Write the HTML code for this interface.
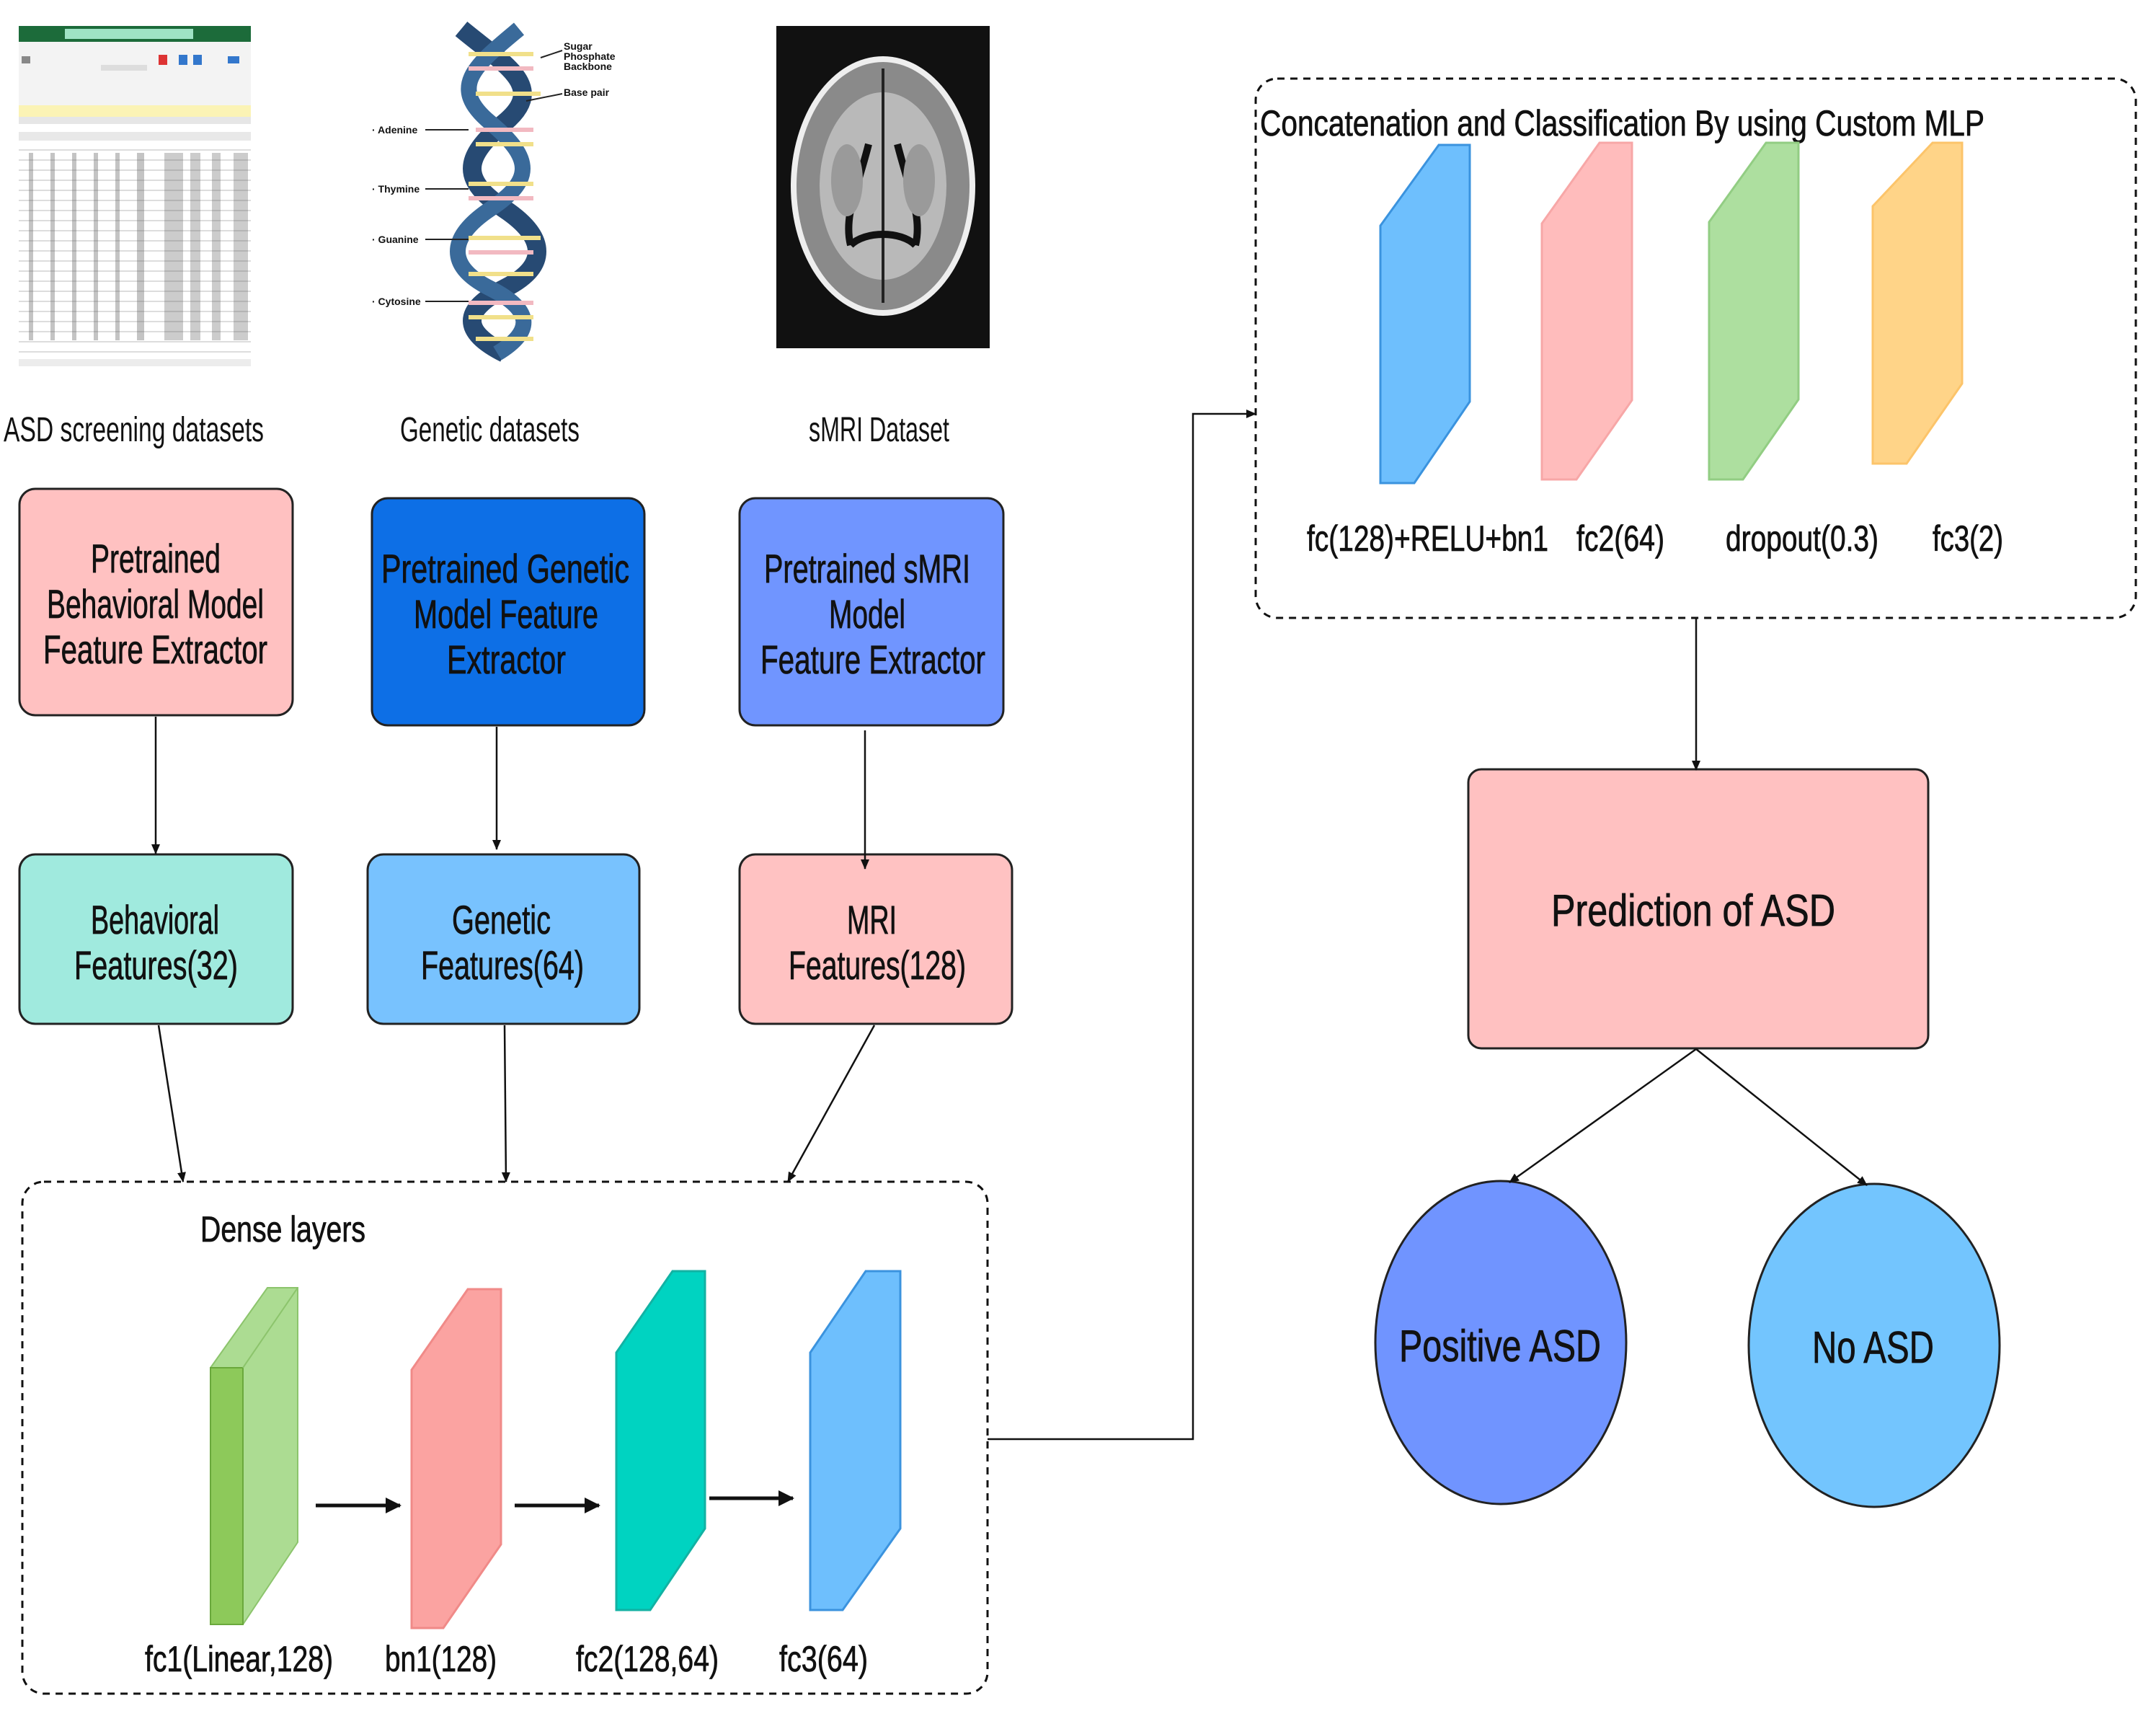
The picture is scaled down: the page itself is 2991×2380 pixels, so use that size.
<!DOCTYPE html>
<html><head><meta charset="utf-8"><style>
html,body{margin:0;padding:0;background:#fff;}
svg{display:block;}
text{font-family:"Liberation Sans Narrow","Liberation Sans",sans-serif;fill:#111;}
.b{stroke:#111;stroke-width:0.8px;}
</style></head><body>
<svg width="2991" height="2380" viewBox="0 0 2991 2380" xmlns="http://www.w3.org/2000/svg">
<defs>
<marker id="ah" markerWidth="14" markerHeight="14" refX="13" refY="7" orient="auto" markerUnits="userSpaceOnUse" viewBox="0 0 14 14"><path d="M0,1 L14,7 L0,13 z" fill="#111"/></marker>
<marker id="ah2" markerWidth="22" markerHeight="22" refX="20" refY="11" orient="auto" markerUnits="userSpaceOnUse" viewBox="0 0 22 22"><path d="M0,0 L22,11 L0,22 z" fill="#111"/></marker>
</defs>

<!-- Excel image -->
<g>
<rect x="26" y="36" width="322" height="472" fill="#fff"/>
<rect x="26" y="36" width="322" height="22" fill="#1c6b3a"/>
<rect x="90" y="40" width="178" height="14" fill="#9fe3c5"/>
<rect x="26" y="58" width="322" height="88" fill="#f3f3f3"/>
<rect x="30" y="78" width="12" height="10" fill="#888"/><rect x="220" y="76" width="12" height="14" fill="#d33"/>
<rect x="248" y="76" width="12" height="14" fill="#37c"/><rect x="268" y="76" width="12" height="14" fill="#37c"/>
<rect x="316" y="78" width="16" height="10" fill="#37c"/>
<rect x="140" y="90" width="64" height="8" fill="#ddd"/>
<rect x="26" y="146" width="322" height="16" fill="#fbf3b5"/>
<rect x="26" y="162" width="322" height="10" fill="#e6e6e6"/>
<rect x="26" y="183" width="322" height="12" fill="#e8e8e8"/>
<g stroke="#bbb" stroke-width="1">
<line x1="26" y1="208" x2="348" y2="208"/><line x1="26" y1="222" x2="348" y2="222"/><line x1="26" y1="236" x2="348" y2="236"/><line x1="26" y1="250" x2="348" y2="250"/><line x1="26" y1="264" x2="348" y2="264"/><line x1="26" y1="278" x2="348" y2="278"/><line x1="26" y1="292" x2="348" y2="292"/><line x1="26" y1="306" x2="348" y2="306"/><line x1="26" y1="320" x2="348" y2="320"/><line x1="26" y1="334" x2="348" y2="334"/><line x1="26" y1="348" x2="348" y2="348"/><line x1="26" y1="362" x2="348" y2="362"/><line x1="26" y1="376" x2="348" y2="376"/><line x1="26" y1="390" x2="348" y2="390"/><line x1="26" y1="404" x2="348" y2="404"/><line x1="26" y1="418" x2="348" y2="418"/><line x1="26" y1="432" x2="348" y2="432"/><line x1="26" y1="446" x2="348" y2="446"/><line x1="26" y1="460" x2="348" y2="460"/><line x1="26" y1="474" x2="348" y2="474"/><line x1="26" y1="488" x2="348" y2="488"/>
</g>
<g fill="#555">
<rect x="40" y="212" width="6" height="260" opacity="0.35"/><rect x="70" y="212" width="6" height="260" opacity="0.35"/><rect x="100" y="212" width="6" height="260" opacity="0.35"/><rect x="130" y="212" width="6" height="260" opacity="0.35"/><rect x="160" y="212" width="6" height="260" opacity="0.35"/><rect x="190" y="212" width="10" height="260" opacity="0.35"/><rect x="228" y="212" width="26" height="260" opacity="0.3"/><rect x="264" y="212" width="14" height="260" opacity="0.3"/><rect x="294" y="212" width="12" height="260" opacity="0.3"/><rect x="324" y="212" width="20" height="260" opacity="0.3"/>
</g>
<rect x="26" y="498" width="322" height="10" fill="#ececec"/>
</g>

<!-- DNA -->
<g fill="none">
<path d="M640,40 C700,90 760,120 700,170 C640,220 640,250 700,290 C760,330 760,370 700,400 C640,430 640,460 700,490" stroke="#274a73" stroke-width="26"/>
<path d="M720,40 C660,90 620,120 680,170 C740,220 740,250 680,290 C620,330 620,370 680,400 C740,430 740,460 690,490" stroke="#3a6a9a" stroke-width="22"/>
<g stroke="#f1e08a" stroke-width="6">
<line x1="650" y1="75" x2="740" y2="75"/><line x1="660" y1="130" x2="750" y2="130"/><line x1="660" y1="200" x2="740" y2="200"/><line x1="650" y1="255" x2="740" y2="255"/><line x1="650" y1="330" x2="750" y2="330"/><line x1="650" y1="380" x2="740" y2="380"/><line x1="650" y1="440" x2="740" y2="440"/><line x1="660" y1="470" x2="740" y2="470"/>
</g>
<g stroke="#f2b9c1" stroke-width="6">
<line x1="650" y1="95" x2="740" y2="95"/><line x1="660" y1="180" x2="740" y2="180"/><line x1="650" y1="275" x2="740" y2="275"/><line x1="650" y1="350" x2="740" y2="350"/><line x1="650" y1="420" x2="740" y2="420"/>
</g>
<g stroke="#222" stroke-width="2">
<line x1="590" y1="180" x2="650" y2="180"/><line x1="590" y1="262" x2="650" y2="262"/><line x1="590" y1="332" x2="650" y2="332"/><line x1="590" y1="418" x2="650" y2="418"/>
<line x1="750" y1="80" x2="780" y2="70"/><line x1="730" y1="140" x2="780" y2="130"/>
</g>
</g>
<g style="font-family:'Liberation Sans',sans-serif;font-weight:bold" font-size="14">
<text x="516" y="185">· Adenine</text><text x="516" y="267">· Thymine</text><text x="516" y="337">· Guanine</text><text x="516" y="423">· Cytosine</text>
<text x="782" y="69">Sugar</text><text x="782" y="83">Phosphate</text><text x="782" y="97">Backbone</text><text x="782" y="133">Base pair</text>
</g>

<!-- MRI -->
<rect x="1077" y="36" width="296" height="447" fill="#111"/>
<ellipse cx="1225" cy="258" rx="128" ry="180" fill="#eee"/>
<ellipse cx="1225" cy="258" rx="120" ry="172" fill="#8a8a8a"/>
<ellipse cx="1225" cy="258" rx="88" ry="130" fill="#b9b9b9"/>
<path d="M1225,95 L1225,420" stroke="#222" stroke-width="4"/>
<path d="M1205,200 C1190,260 1170,300 1180,340 M1245,200 C1260,260 1280,300 1270,340 M1180,340 C1200,320 1250,320 1270,340" stroke="#111" stroke-width="10" fill="none"/>
<ellipse cx="1175" cy="250" rx="22" ry="50" fill="#9a9a9a"/><ellipse cx="1275" cy="250" rx="22" ry="50" fill="#9a9a9a"/>

<!-- Section labels -->
<g font-size="48">
<text x="5" y="612" textLength="361" lengthAdjust="spacingAndGlyphs">ASD screening datasets</text>
<text x="555" y="612" textLength="249" lengthAdjust="spacingAndGlyphs">Genetic datasets</text>
<text x="1122" y="612" textLength="195" lengthAdjust="spacingAndGlyphs">sMRI Dataset</text>
</g>

<!-- Pretrained boxes -->
<rect x="27" y="678" width="379" height="314" rx="22" fill="#ffc1c1" stroke="#222" stroke-width="3"/>
<rect x="516" y="691" width="378" height="315" rx="22" fill="#0d6fe6" stroke="#222" stroke-width="3"/>
<rect x="1026" y="691" width="366" height="315" rx="22" fill="#7095ff" stroke="#222" stroke-width="3"/>
<g font-size="56" class="b">
<text x="126" y="794" textLength="180" lengthAdjust="spacingAndGlyphs">Pretrained</text>
<text x="65" y="857" textLength="301" lengthAdjust="spacingAndGlyphs">Behavioral Model</text>
<text x="60" y="920" textLength="311" lengthAdjust="spacingAndGlyphs">Feature Extractor</text>
<text x="529" y="808" textLength="344" lengthAdjust="spacingAndGlyphs">Pretrained  Genetic</text>
<text x="574" y="871" textLength="256" lengthAdjust="spacingAndGlyphs">Model Feature</text>
<text x="620" y="934" textLength="165" lengthAdjust="spacingAndGlyphs">Extractor</text>
<text x="1060" y="808" textLength="286" lengthAdjust="spacingAndGlyphs">Pretrained sMRI</text>
<text x="1150" y="871" textLength="106" lengthAdjust="spacingAndGlyphs">Model</text>
<text x="1055" y="934" textLength="312" lengthAdjust="spacingAndGlyphs">Feature Extractor</text>
</g>

<!-- Feature boxes -->
<rect x="27" y="1185" width="379" height="235" rx="22" fill="#a0eade" stroke="#222" stroke-width="3"/>
<rect x="510" y="1185" width="377" height="235" rx="22" fill="#78c2fe" stroke="#222" stroke-width="3"/>
<rect x="1026" y="1185" width="378" height="235" rx="22" fill="#ffc2c2" stroke="#222" stroke-width="3"/>
<g font-size="56" class="b">
<text x="126" y="1295" textLength="178" lengthAdjust="spacingAndGlyphs">Behavioral</text>
<text x="103" y="1358" textLength="227" lengthAdjust="spacingAndGlyphs">Features(32)</text>
<text x="627" y="1295" textLength="137" lengthAdjust="spacingAndGlyphs">Genetic</text>
<text x="584" y="1358" textLength="226" lengthAdjust="spacingAndGlyphs">Features(64)</text>
<text x="1175" y="1295" textLength="69" lengthAdjust="spacingAndGlyphs">MRI</text>
<text x="1094" y="1358" textLength="246" lengthAdjust="spacingAndGlyphs">Features(128)</text>
</g>

<!-- arrows pretrained -> features (drawn after boxes) -->
<g stroke="#111" stroke-width="2.5" fill="none">
<line x1="216" y1="994" x2="216" y2="1184" marker-end="url(#ah)"/>
<line x1="689" y1="1008" x2="689" y2="1178" marker-end="url(#ah)"/>
<line x1="1200" y1="1013" x2="1200" y2="1205" marker-end="url(#ah)"/>
</g>

<!-- arrows features -> dense -->
<g stroke="#111" stroke-width="2.5" fill="none">
<line x1="220" y1="1422" x2="254" y2="1639" marker-end="url(#ah)"/>
<line x1="700" y1="1422" x2="702" y2="1639" marker-end="url(#ah)"/>
<line x1="1213" y1="1422" x2="1093" y2="1639" marker-end="url(#ah)"/>
</g>

<!-- Dense box -->
<rect x="31" y="1639" width="1339" height="710" rx="30" fill="none" stroke="#111" stroke-width="3" stroke-dasharray="10,8"/>
<text x="278" y="1722" font-size="50" class="b" textLength="229" lengthAdjust="spacingAndGlyphs">Dense layers</text>
<polygon points="292,1897 371,1786 413,1786 413,2139 337,2253 292,2253" fill="#acdc92" stroke="#8cc46c" stroke-width="2"/>
<rect x="292" y="1897" width="45" height="356" fill="#8dc95a" stroke="#6aa83c" stroke-width="2"/>
<line x1="337" y1="1897" x2="413" y2="1786" stroke="#8cc46c" stroke-width="2"/>
<polygon points="571,1900 649,1788 695,1788 695,2142 615,2258 571,2258" fill="#fba3a1" stroke="#f08a88" stroke-width="3"/>
<polygon points="855,1876 933,1763 978,1763 978,2120 902,2233 855,2233" fill="#00d3c1" stroke="#12b2a3" stroke-width="3"/>
<polygon points="1124,1876 1201,1763 1249,1763 1249,2120 1169,2233 1124,2233" fill="#6ebffd" stroke="#3b93de" stroke-width="3"/>
<g stroke="#111" stroke-width="5" fill="none">
<line x1="438" y1="2088" x2="555" y2="2088" marker-end="url(#ah2)"/>
<line x1="714" y1="2088" x2="831" y2="2088" marker-end="url(#ah2)"/>
<line x1="984" y1="2078" x2="1100" y2="2078" marker-end="url(#ah2)"/>
</g>
<g font-size="50" class="b">
<text x="201" y="2318" textLength="261" lengthAdjust="spacingAndGlyphs">fc1(Linear,128)</text>
<text x="534" y="2318" textLength="155" lengthAdjust="spacingAndGlyphs">bn1(128)</text>
<text x="799" y="2318" textLength="198" lengthAdjust="spacingAndGlyphs">fc2(128,64)</text>
<text x="1081" y="2318" textLength="123" lengthAdjust="spacingAndGlyphs">fc3(64)</text>
</g>

<!-- connector dense -> concat -->
<polyline points="1370,1996 1655,1996 1655,574 1742,574" fill="none" stroke="#111" stroke-width="2.5" marker-end="url(#ah)"/>

<!-- Concat box -->
<rect x="1742" y="109" width="1221" height="748" rx="30" fill="none" stroke="#111" stroke-width="3" stroke-dasharray="10,8"/>
<text x="1748" y="188" font-size="50" class="b" textLength="1005" lengthAdjust="spacingAndGlyphs">Concatenation  and Classification By using Custom MLP</text>
<polygon points="1915,313 1996,201 2039,201 2039,557 1962,670 1915,670" fill="#6ebffd" stroke="#3b93de" stroke-width="3"/>
<polygon points="2139,310 2219,198 2264,198 2264,555 2187,665 2139,665" fill="#ffbcbc" stroke="#f7a7a7" stroke-width="3"/>
<polygon points="2371,308 2450,198 2495,198 2495,554 2418,665 2371,665" fill="#addf9f" stroke="#92cd83" stroke-width="3"/>
<polygon points="2598,286 2681,198 2722,198 2722,532 2645,643 2598,643" fill="#ffd488" stroke="#fcc46a" stroke-width="3"/>
<g font-size="50" class="b">
<text x="1813" y="764" textLength="335" lengthAdjust="spacingAndGlyphs">fc(128)+RELU+bn1</text>
<text x="2187" y="764" textLength="122" lengthAdjust="spacingAndGlyphs">fc2(64)</text>
<text x="2394" y="764" textLength="212" lengthAdjust="spacingAndGlyphs">dropout(0.3)</text>
<text x="2681" y="764" textLength="98" lengthAdjust="spacingAndGlyphs">fc3(2)</text>
</g>

<!-- Prediction -->
<rect x="2037" y="1067" width="638" height="387" rx="18" fill="#ffc1c1" stroke="#222" stroke-width="3"/>
<text x="2152" y="1284" font-size="62" class="b" textLength="394" lengthAdjust="spacingAndGlyphs">Prediction of  ASD</text>
<line x1="2353" y1="857" x2="2353" y2="1068" stroke="#111" stroke-width="2.5" marker-end="url(#ah)"/>

<ellipse cx="2082" cy="1862" rx="174" ry="224" fill="#7094ff" stroke="#222" stroke-width="3"/>
<ellipse cx="2600" cy="1866" rx="174" ry="224" fill="#73c5fe" stroke="#222" stroke-width="3"/>
<g stroke="#111" stroke-width="2.5" fill="none">
<line x1="2353" y1="1455" x2="2094" y2="1640" marker-end="url(#ah)"/>
<line x1="2353" y1="1455" x2="2590" y2="1644" marker-end="url(#ah)"/>
</g>
<text x="1941" y="1888" font-size="62" class="b" textLength="280" lengthAdjust="spacingAndGlyphs">Positive ASD</text>
<text x="2514" y="1890" font-size="62" class="b" textLength="169" lengthAdjust="spacingAndGlyphs">No ASD</text>
</svg>
</body></html>
